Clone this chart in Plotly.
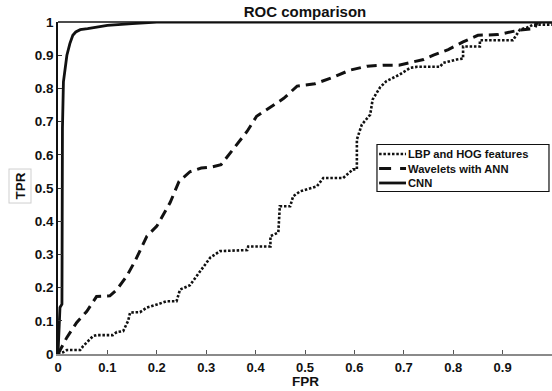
import plotly.graph_objects as go

# ---- data ----
cnn_fpr = [0, 0.003, 0.004, 0.008, 0.008, 0.009, 0.011, 0.014, 0.018, 0.024, 0.03, 0.036,
           0.045, 0.06, 0.08, 0.1, 0.15, 0.2, 1.0]
cnn_tpr = [0, 0.1, 0.14, 0.15, 0.5, 0.68, 0.82, 0.86, 0.9, 0.935, 0.96, 0.97,
           0.977, 0.98, 0.985, 0.99, 0.995, 1.0, 1.0]

wav_fpr = [0, 0.018, 0.038, 0.058, 0.078, 0.105, 0.119, 0.139, 0.156, 0.18, 0.2, 0.227,
           0.245, 0.267, 0.29, 0.31, 0.33, 0.364, 0.383, 0.402, 0.426, 0.457, 0.484,
           0.52, 0.554, 0.591, 0.626, 0.658, 0.69, 0.74, 0.76, 0.79, 0.82, 0.85, 0.89,
           0.935, 0.965, 0.97, 1.0]
wav_tpr = [0, 0.05, 0.095, 0.128, 0.173, 0.175, 0.194, 0.234, 0.28, 0.355, 0.385, 0.456,
           0.52, 0.549, 0.56, 0.563, 0.57, 0.636, 0.671, 0.716, 0.739, 0.77, 0.807,
           0.814, 0.832, 0.855, 0.867, 0.87, 0.87, 0.887, 0.9, 0.917, 0.94, 0.96, 0.962,
           0.976, 0.98, 1.0, 1.0]

lbp_fpr = [0, 0.01, 0.018, 0.045, 0.051, 0.071, 0.079, 0.111, 0.119, 0.132, 0.142, 0.146,
           0.166, 0.18, 0.2, 0.22, 0.24, 0.247, 0.267, 0.28, 0.294, 0.308, 0.328, 0.383,
           0.385, 0.43, 0.43, 0.446, 0.449, 0.47, 0.476, 0.49, 0.524, 0.537, 0.577, 0.597,
           0.605, 0.605, 0.615, 0.632, 0.637, 0.652, 0.665, 0.672, 0.692, 0.713, 0.727,
           0.773, 0.78, 0.807, 0.82, 0.82, 0.854, 0.854, 0.921, 0.935, 0.949, 0.962, 1.0]
lbp_tpr = [0, 0.005, 0.012, 0.012, 0.024, 0.054, 0.057, 0.057, 0.066, 0.069, 0.1, 0.125,
           0.126, 0.14, 0.149, 0.159, 0.159, 0.194, 0.207, 0.234, 0.264, 0.29, 0.31, 0.313,
           0.324, 0.324, 0.355, 0.366, 0.445, 0.445, 0.475, 0.49, 0.505, 0.53, 0.53, 0.556,
           0.556, 0.646, 0.691, 0.721, 0.767, 0.803, 0.822, 0.827, 0.842, 0.862, 0.865,
           0.865, 0.877, 0.887, 0.89, 0.926, 0.926, 0.945, 0.945, 0.977, 0.983, 0.992, 0.992]

series_names = ["LBP and HOG features", "Wavelets with ANN", "CNN"]
tick_vals = [0, 0.1, 0.2, 0.3, 0.4, 0.5, 0.6, 0.7, 0.8, 0.9, 1]
tick_text = ["0", "0.1", "0.2", "0.3", "0.4", "0.5", "0.6", "0.7", "0.8", "0.9", "1"]

FONT = "Liberation Sans, Arial, sans-serif"
dot_style = "2.5px,1.8px"
dash_style = "10px,6px"

fig = go.Figure()
fig.add_trace(go.Scatter(x=lbp_fpr, y=lbp_tpr, mode="lines", name=series_names[0],
                         line=dict(color="#111", width=2.6, dash=dot_style), showlegend=False))
fig.add_trace(go.Scatter(x=wav_fpr, y=wav_tpr, mode="lines", name=series_names[1],
                         line=dict(color="#111", width=3, dash=dash_style), showlegend=False))
fig.add_trace(go.Scatter(x=cnn_fpr, y=cnn_tpr, mode="lines", name=series_names[2],
                         line=dict(color="#111", width=2.8), showlegend=False))

# manual legend (compact, as in reference)
lx0, lx1, ly0, ly1 = 0.6457, 0.9939, 0.4895, 0.631
shapes = [
    dict(type="rect", xref="paper", yref="paper", x0=lx0, x1=lx1, y0=ly0, y1=ly1,
         line=dict(color="#111", width=1.2), fillcolor="white", layer="above"),
    dict(type="line", xref="paper", yref="paper", x0=0, x1=1, y0=1, y1=1,
         line=dict(color="#111", width=1.5)),
]
rows_y = [0.6024, 0.5587, 0.5151]
styles = [dict(width=2.6, dash=dot_style), dict(width=3, dash="12px,9px"), dict(width=2.8, dash="solid")]
annotations = []
for name, yy, st in zip(series_names, rows_y, styles):
    shapes.append(dict(type="line", xref="paper", yref="paper", x0=0.650, x1=0.7045, y0=yy, y1=yy,
                       line=dict(color="#111", **st), layer="above"))
    annotations.append(dict(xref="paper", yref="paper", x=0.706, y=yy, xanchor="left", yanchor="middle",
                            text=name, showarrow=False, borderpad=0,
                            font=dict(family=FONT, size=11.2, color="#111", weight="bold")))

annotations.append(dict(xref="paper", yref="paper", x=0.5, y=(354.5 - 390.5) / 332, xanchor="center",
                        yanchor="bottom", text="FPR", showarrow=False, borderpad=0,
                        font=dict(family=FONT, size=13.5, color="#111", weight="bold")))
annotations.append(dict(xref="paper", yref="paper", x=-0.0769, y=0.5045, xanchor="center", yanchor="middle",
                        text="TPR", showarrow=False, textangle=-90,
                        bordercolor="#cfcfcf", borderwidth=1, borderpad=3,
                        font=dict(family=FONT, size=13.5, color="#111", weight="bold")))

fig.update_layout(
    width=552, height=391,
    margin=dict(l=58, r=0, t=22, b=36.5),
    paper_bgcolor="white", plot_bgcolor="white",
    title=dict(text="ROC comparison", x=305 / 552, xanchor="center", y=1 - 12 / 391, yanchor="middle",
               font=dict(family=FONT, size=15, color="#111", weight="bold")),
    shapes=shapes, annotations=annotations,
    showlegend=False,
)
fig.update_xaxes(range=[0, 1], tickvals=tick_vals, ticktext=tick_text, showgrid=False, zeroline=False,
                 showline=True, linecolor="#8a8a8a", linewidth=2,
                 ticks="inside", ticklen=4, tickcolor="#555", tickwidth=1, ticklabelstandoff=0,
                 tickfont=dict(family=FONT, size=13, color="#111", weight="bold"))
fig.update_yaxes(range=[0, 1], tickvals=tick_vals, ticktext=tick_text, showgrid=False, zeroline=False,
                 showline=True, linecolor="#111", linewidth=1.5,
                 ticks="inside", ticklen=4, tickcolor="#333", tickwidth=1,
                 tickfont=dict(family=FONT, size=13.5, color="#111", weight="bold"))

fig.write_html("out.html")
